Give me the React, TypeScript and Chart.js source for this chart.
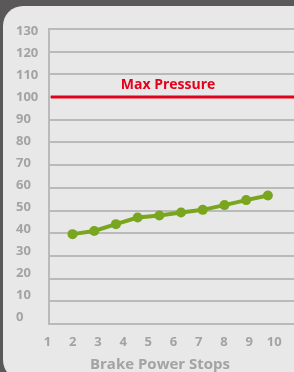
import React, { useEffect, useRef } from "react";
import { Chart, registerables } from "chart.js";

Chart.register(...registerables);

// ---- data ----
const STOPS = [1, 2, 3, 4, 5, 6, 7, 8, 9, 10];
const PRESSURE = [39.6, 41, 44, 46.9, 47.8, 49.1, 50.3, 52.4, 54.6, 56.6];
const Y_TICKS = [0, 10, 20, 30, 40, 50, 60, 70, 80, 90, 100, 110, 120, 130];
const X_TICKS = [1, 2, 3, 4, 5, 6, 7, 8, 9, 10];
const MAX_PRESSURE = 100;
const MAX_LINE_STOPS = [0, 12];
const MAX_LABEL = "Max Pressure";
const MAX_LABEL_AT = 5.4;
const X_TITLE = "Brake Power Stops";

// ---- styles ----
const FONT = '"Open Sans", "DejaVu Sans", sans-serif';
const DARK = "#5a5858";
const PANEL = "#e8e8e8";
const GRID = "#bababa";
const TEXT_GRAY = "#a3a3a3";
const GREEN = "#7aa51f";
const RED = "#e3001b";

const maxLabelPlugin = {
  id: "maxLabel",
  afterDatasetsDraw(chart: any) {
    const { ctx, scales } = chart;
    const x = scales.xData.getPixelForValue(MAX_LABEL_AT);
    const y = scales.y.getPixelForValue(MAX_PRESSURE) - 8;
    ctx.save();
    ctx.font = `bold 14px ${FONT}`;
    ctx.fillStyle = RED;
    ctx.textAlign = "center";
    ctx.textBaseline = "alphabetic";
    ctx.fillText(MAX_LABEL, x, y);
    ctx.restore();
  },
};

export default function App() {
  const canvasRef = useRef<HTMLCanvasElement | null>(null);

  useEffect(() => {
    const canvas = canvasRef.current;
    if (!canvas) return;
    const chart = new Chart(canvas, {
      type: "line",
      data: {
        datasets: [
          {
            label: MAX_LABEL,
            data: MAX_LINE_STOPS.map((s) => ({ x: s, y: MAX_PRESSURE })),
            xAxisID: "xData",
            yAxisID: "y",
            borderColor: RED,
            borderWidth: 3,
            pointRadius: 0,
            fill: false,
          },
          {
            label: "Pressure",
            data: STOPS.map((s, i) => ({ x: s, y: PRESSURE[i] })),
            xAxisID: "xData",
            yAxisID: "y",
            borderColor: GREEN,
            backgroundColor: GREEN,
            borderWidth: 4,
            pointRadius: 5,
            pointBorderWidth: 0,
            pointBackgroundColor: GREEN,
            tension: 0,
            fill: false,
          },
        ],
      },
      options: {
        animation: false,
        responsive: false,
        devicePixelRatio: 1,
        layout: { padding: { left: 16, top: 29, right: 0, bottom: 0 } },
        plugins: {
          legend: { display: false },
          tooltip: { enabled: false },
          title: {
            display: true,
            text: X_TITLE,
            position: "bottom",
            fullSize: true,
            color: TEXT_GRAY,
            font: { family: FONT, size: 15, weight: "bold", lineHeight: 1 },
            padding: 0,
          },
        },
        scales: {
          xData: {
            type: "linear",
            display: false,
            min: -0.084,
            max: 11.434,
          },
          x: {
            type: "linear",
            position: "bottom",
            min: 1.058,
            max: 10.98,
            grid: { display: false, drawTicks: false },
            border: { display: false },
            ticks: {
              color: TEXT_GRAY,
              font: { family: FONT, size: 13, weight: "bold" },
              padding: 10,
              autoSkip: false,
              maxRotation: 0,
              callback: (v: any) => String(v),
            },
            afterBuildTicks: (scale: any) => {
              scale.ticks = X_TICKS.map((v) => ({ value: v }));
            },
            afterFit: (scale: any) => {
              scale.height = 33;
            },
          },
          y: {
            type: "linear",
            position: "right",
            min: 0,
            max: 130,
            grid: { color: GRID, lineWidth: 2, drawTicks: false },
            border: { display: false },
            ticks: { display: false },
            afterBuildTicks: (scale: any) => {
              scale.ticks = Y_TICKS.map((v) => ({ value: v }));
            },
            afterFit: (scale: any) => {
              scale.width = 0;
            },
          },
          yLabels: {
            type: "linear",
            position: "left",
            min: -2.96,
            max: 131.2,
            grid: { display: false, drawTicks: false },
            border: { display: true, color: GRID, width: 2 },
            ticks: {
              color: TEXT_GRAY,
              font: { family: FONT, size: 13, weight: "bold" },
              crossAlign: "far",
              padding: 0,
              autoSkip: false,
              callback: (v: any) => String(v),
            },
            afterBuildTicks: (scale: any) => {
              scale.ticks = Y_TICKS.map((v) => ({ value: v }));
            },
            afterFit: (scale: any) => {
              scale.width = 33;
            },
          },
        },
      } as any,
      plugins: [maxLabelPlugin],
    });
    return () => chart.destroy();
  }, []);

  return (
    <div
      style={{
        position: "fixed",
        left: 0,
        top: 0,
        width: 294,
        height: 372,
        overflow: "hidden",
        background: DARK,
      }}
    >
      <div
        style={{
          position: "absolute",
          left: 3,
          top: 6,
          width: 320,
          height: 374,
          background: PANEL,
          borderTopLeftRadius: 20,
          borderBottomLeftRadius: 20,
        }}
      />
      <canvas
        ref={canvasRef}
        width={304}
        height={372}
        style={{ position: "absolute", left: 0, top: 0, width: 304, height: 372 }}
      />
    </div>
  );
}
